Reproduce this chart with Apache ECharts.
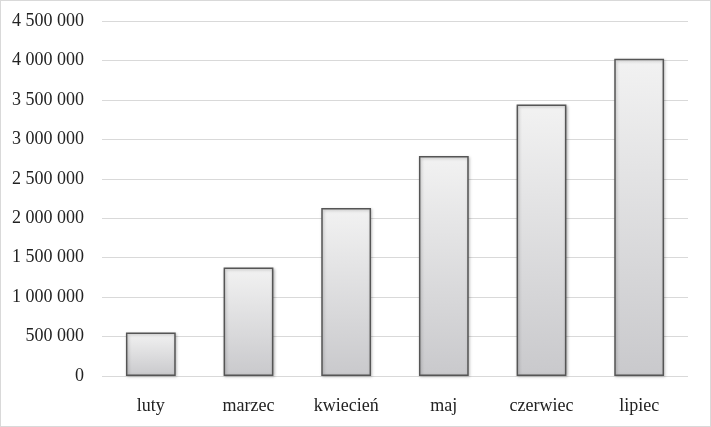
<!DOCTYPE html>
<html>
<head>
<meta charset="utf-8">
<script src="https://cdn.jsdelivr.net/npm/echarts@6/dist/echarts.min.js"></script>
<style>
html,body{margin:0;padding:0;background:#fff;}
#c{width:709px;height:425px;border:1px solid #d9d9d9;}
</style>
</head>
<body>
<div id="c"></div>
<script>
const categories = ['luty', 'marzec', 'kwiecień', 'maj', 'czerwiec', 'lipiec'];
const values = [550000, 1375000, 2130000, 2790000, 3440000, 4020000];
const yTicks = [0, 500000, 1000000, 1500000, 2000000, 2500000, 3000000, 3500000, 4000000, 4500000];

function fmt(v) {
  return String(v).replace(/\B(?=(\d{3})+(?!\d))/g, ' ');
}

const chart = echarts.init(document.getElementById('c'), null, {renderer: 'canvas'});
const font = '"Liberation Serif", "DejaVu Serif", serif';
chart.setOption({
  animation: false,
  grid: {left: 101, right: 22, top: 20, bottom: 50, containLabel: false},
  xAxis: {
    type: 'category',
    data: categories,
    axisLine: {show: false},
    axisTick: {show: false},
    axisLabel: {color: '#222', fontFamily: font, fontSize: 18, margin: 21}
  },
  yAxis: {
    type: 'value',
    min: yTicks[0],
    max: yTicks[yTicks.length - 1],
    interval: yTicks[1] - yTicks[0],
    axisLine: {show: false},
    axisTick: {show: false},
    splitLine: {lineStyle: {color: '#d9d9d9', width: 1}},
    axisLabel: {color: '#222', fontFamily: font, fontSize: 18, margin: 18, formatter: fmt}
  },
  series: [{
    type: 'bar',
    data: values,
    barWidth: '51%',
    itemStyle: {
      color: new echarts.graphic.LinearGradient(0, 0, 0, 1, [
        {offset: 0, color: '#f2f2f2'},
        {offset: 1, color: '#c9c9cc'}
      ]),
      borderColor: '#555',
      borderWidth: 1.5,
      shadowColor: 'rgba(0,0,0,0.25)',
      shadowBlur: 3,
      shadowOffsetX: 1,
      shadowOffsetY: 1
    }
  }]
});
</script>
</body>
</html>
